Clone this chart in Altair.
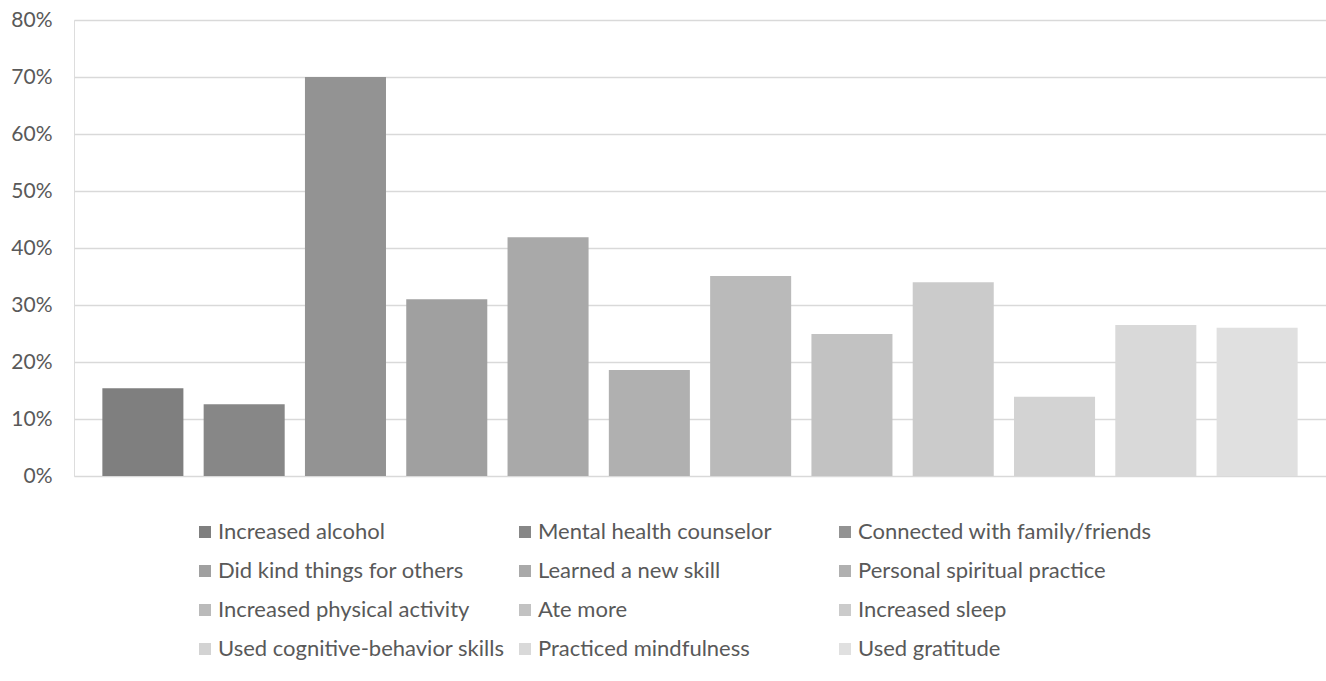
import altair as alt
import pandas as pd

# Coping behaviours and share of respondents reporting each one
categories = [
    "Increased alcohol",
    "Mental health counselor",
    "Connected with family/friends",
    "Did kind things for others",
    "Learned a new skill",
    "Personal spiritual practice",
    "Increased physical activity",
    "Ate more",
    "Increased sleep",
    "Used cognitive-behavior skills",
    "Practiced mindfulness",
    "Used gratitude",
]
shares = [0.154, 0.126, 0.70, 0.310, 0.419, 0.186, 0.351, 0.249, 0.340, 0.139, 0.265, 0.260]
greys = [
    "#7f7f7f", "#878787", "#939393", "#a0a0a0", "#a9a9a9", "#b0b0b0",
    "#bababa", "#c2c2c2", "#cbcbcb", "#d3d3d3", "#d9d9d9", "#e0e0e0",
]
y_ticks = [0, 0.1, 0.2, 0.3, 0.4, 0.5, 0.6, 0.7, 0.8]

df = pd.DataFrame({"behaviour": categories, "share": shares})

FONT = "Lato"
TEXT_GREY = "#595959"

chart = (
    alt.Chart(df)
    .mark_bar()
    .encode(
        x=alt.X(
            "behaviour:N",
            sort=categories,
            scale=alt.Scale(paddingInner=0.2, paddingOuter=0.28),
            axis=None,
        ),
        y=alt.Y(
            "share:Q",
            scale=alt.Scale(domain=[0, 0.8], nice=False),
            axis=alt.Axis(
                values=y_ticks,
                format=".0%",
                title=None,
                domain=False,
                ticks=False,
                grid=True,
                gridColor="#d9d9d9",
                gridWidth=1.5,
                labelPadding=22,
                labelFont=FONT,
                labelFontSize=21,
                labelColor=TEXT_GREY,
            ),
        ),
        color=alt.Color(
            "behaviour:N",
            sort=categories,
            scale=alt.Scale(domain=categories, range=greys),
            legend=alt.Legend(
                title=None,
                orient="none",
                legendX=120,
                legendY=501,
                direction="horizontal",
                columns=3,
                gridAlign="all",
                columnPadding=2,
                rowPadding=17,
                symbolType="square",
                symbolSize=144,
                symbolStrokeWidth=0,
                labelOffset=2,
                labelFont=FONT,
                labelFontSize=22,
                labelColor=TEXT_GREY,
                labelLimit=400,
                padding=0,
            ),
        ),
    )
    .properties(
        width=1252,
        height=456,
        autosize=alt.AutoSizeParams(type="none"),
        padding={"left": 74, "top": 20, "right": 0, "bottom": 205},
    )
    .configure_view(stroke=None)
    .configure(background="white")
)

chart.save("out.html", embed_options={"renderer": "svg", "actions": False})
